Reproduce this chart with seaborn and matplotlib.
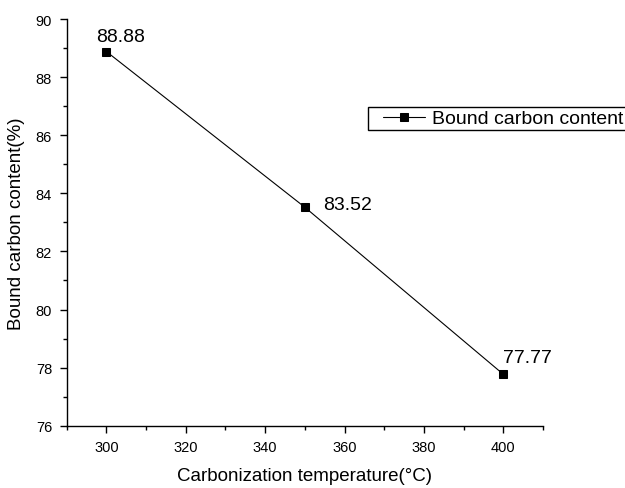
import matplotlib
matplotlib.use("Agg")
import matplotlib.pyplot as plt
from matplotlib.ticker import MultipleLocator
from matplotlib.legend_handler import HandlerLine2D
from matplotlib.lines import Line2D
import seaborn as sns
import pandas as pd

temperature = [300, 350, 400]
carbon_content = [88.88, 83.52, 77.77]
series_name = "Bound carbon content"
x_label = "Carbonization temperature(\u00b0C)"
y_label = "Bound carbon content(%)"

sns.set_style("ticks")
plt.rcParams["font.family"] = ["Liberation Sans", "DejaVu Sans"]
plt.rcParams["text.color"] = "black"
plt.rcParams["axes.labelcolor"] = "black"

df = pd.DataFrame({"temp": temperature, "carbon": carbon_content, "series": series_name})

fig = plt.figure(figsize=(6.25, 4.89), dpi=100)
ax = fig.add_axes([0.1067, 0.1274, 0.7621, 0.8317])

sns.lineplot(data=df, x="temp", y="carbon", hue="series", palette=["black"],
             marker="s", markersize=6, markeredgecolor="black",
             linewidth=0.8, ax=ax)

ax.set_xlim(290, 410)
ax.set_ylim(76, 90)
ax.xaxis.set_major_locator(MultipleLocator(20))
ax.xaxis.set_minor_locator(MultipleLocator(10))
ax.yaxis.set_major_locator(MultipleLocator(2))
ax.yaxis.set_minor_locator(MultipleLocator(1))
ax.tick_params(which="major", direction="out", length=5, width=1, labelsize=10.5,
               colors="black", pad=5.5)
ax.tick_params(which="minor", direction="out", length=3, width=1, colors="black")
for side in ("top", "right"):
    ax.spines[side].set_visible(False)
for side in ("left", "bottom"):
    ax.spines[side].set_color("black")
    ax.spines[side].set_linewidth(1)

ax.set_xlabel(x_label, fontsize=13.5, labelpad=9, color="black")
ax.set_ylabel(y_label, fontsize=13.5, labelpad=8, color="black")

# value labels next to each point (offsets in points)
offsets = [(-7.2, 7.6, "left", "baseline"),
           (13.5, 3.5, "left", "center_baseline"),
           (0, 8.6, "left", "baseline")]
for (t, c), (dx, dy, ha, va) in zip(zip(temperature, carbon_content), offsets):
    ax.annotate(f"{c:.2f}", (t, c), xytext=(dx, dy), textcoords="offset points",
                ha=ha, va=va, fontsize=14, color="black")


class PaddedLineHandler(HandlerLine2D):
    """Line+marker legend handle with some blank space before the line."""
    def create_artists(self, legend, orig_handle, xdescent, ydescent,
                       width, height, fontsize, trans):
        pad = 0.62 * fontsize
        return super().create_artists(legend, orig_handle, xdescent - pad, ydescent,
                                      width - pad, height, fontsize, trans)


handles, labels = ax.get_legend_handles_labels()
leg = ax.legend(handles, labels, loc="upper left", bbox_to_anchor=(0.632, 0.784),
                borderaxespad=0, fontsize=14, frameon=True, fancybox=False,
                edgecolor="black", handlelength=2.8, handletextpad=0.36,
                borderpad=0.15, labelcolor="black",
                handler_map={Line2D: PaddedLineHandler()})
leg.get_frame().set_linewidth(1)
leg.get_frame().set_alpha(1)

fig.savefig("out.png", dpi=100)
